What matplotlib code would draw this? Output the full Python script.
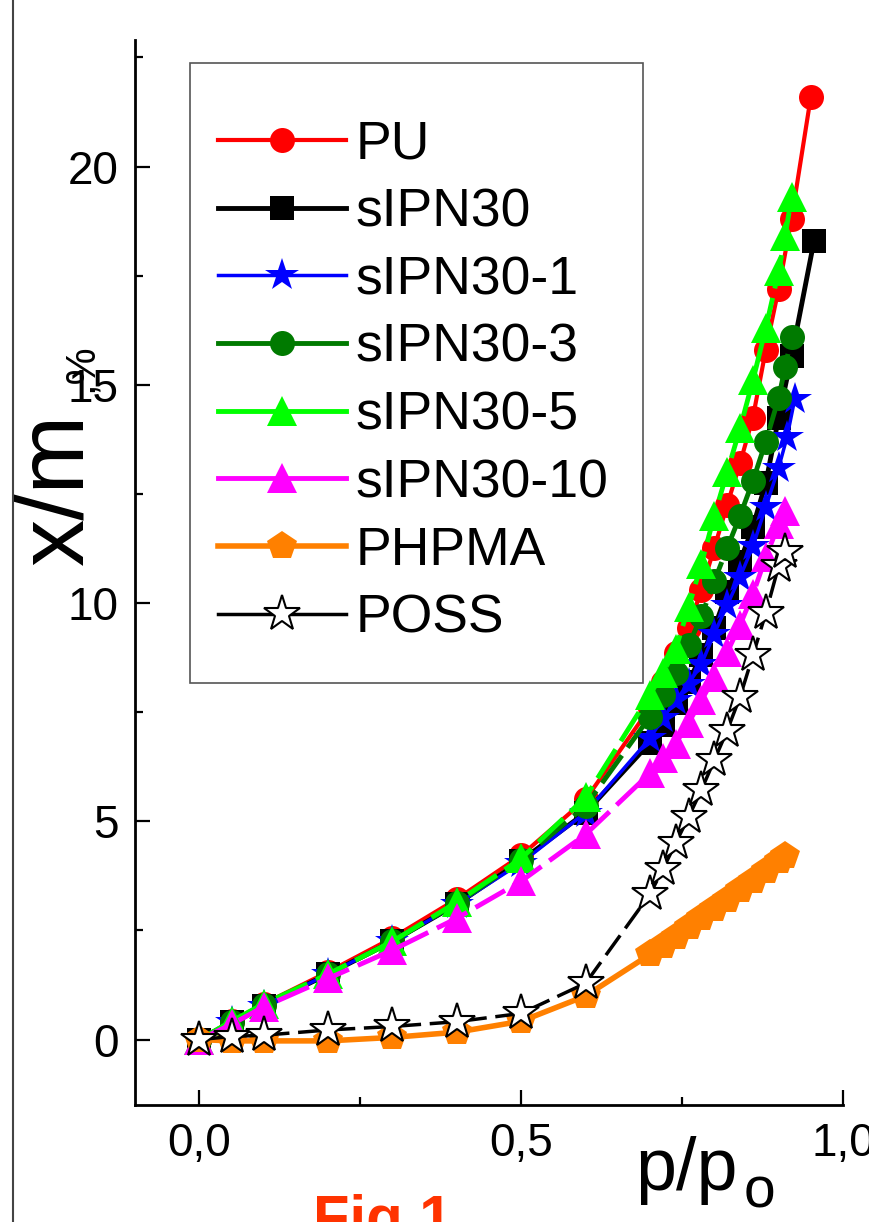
#!/usr/bin/env python3
"""Sorption isotherms x/m vs p/po -> out.png"""
import matplotlib
matplotlib.use("Agg")
import matplotlib.pyplot as plt
from matplotlib.lines import Line2D
from matplotlib.patches import Rectangle
from matplotlib.ticker import MultipleLocator, FixedLocator, FixedFormatter

plt.rcParams["font.family"] = ["Liberation Sans", "DejaVu Sans"]

# ---- data ----
X_LOW = [0.0, 0.05, 0.1, 0.2, 0.3, 0.4, 0.5, 0.6]

pu_x = X_LOW + [0.70, 0.72, 0.74, 0.76, 0.78, 0.80, 0.82, 0.84, 0.86, 0.88, 0.90, 0.92, 0.95]
pu_y = [0.0, 0.42, 0.82, 1.55, 2.33, 3.22, 4.22, 5.5,
        7.6, 8.2, 8.85, 9.43, 10.3, 11.26, 12.25, 13.2, 14.25, 15.8, 17.2, 18.8, 21.6]

s30_x = X_LOW + [0.70, 0.72, 0.74, 0.76, 0.78, 0.80, 0.82, 0.84, 0.86, 0.88, 0.90, 0.92, 0.955]
s30_y = [0.0, 0.4, 0.78, 1.5, 2.25, 3.1, 4.1, 5.2,
         6.8, 7.2, 7.7, 8.2, 8.8, 9.43, 10.25, 10.95, 11.75, 12.75, 14.25, 15.65, 18.3]

s30_1_x = X_LOW + [0.70, 0.72, 0.74, 0.76, 0.78, 0.80, 0.82, 0.84, 0.86, 0.88, 0.90, 0.913, 0.925]
s30_1_y = [0.0, 0.4, 0.78, 1.5, 2.25, 3.1, 4.05, 5.2,
           6.9, 7.36, 7.77, 8.15, 8.6, 9.3, 9.95, 10.6, 11.3, 12.2, 13.1, 13.8, 14.67]

s30_3_x = X_LOW + [0.70, 0.72, 0.74, 0.76, 0.78, 0.80, 0.82, 0.84, 0.86, 0.88, 0.90, 0.91, 0.92]
s30_3_y = [0.0, 0.4, 0.8, 1.5, 2.25, 3.12, 4.12, 5.35,
           7.4, 7.9, 8.4, 9.03, 9.7, 10.5, 11.26, 12.0, 12.8, 13.7, 14.7, 15.4, 16.1]

s30_5_x = X_LOW + [0.70, 0.72, 0.74, 0.76, 0.78, 0.80, 0.82, 0.84, 0.86, 0.88, 0.90, 0.91, 0.92]
s30_5_y = [0.0, 0.42, 0.82, 1.5, 2.25, 3.15, 4.15, 5.55,
           7.9, 8.4, 8.95, 9.9, 10.9, 12.0, 13.0, 14.0, 15.1, 16.3, 17.6, 18.4, 19.3]

s30_10_x = X_LOW + [0.70, 0.72, 0.74, 0.76, 0.78, 0.80, 0.82, 0.84, 0.86, 0.88, 0.90, 0.91]
s30_10_y = [0.0, 0.35, 0.75, 1.4, 2.05, 2.78, 3.63, 4.7,
            6.1, 6.44, 6.78, 7.26, 7.77, 8.3, 8.87, 9.5, 10.2, 11.05, 11.8, 12.1]

phpma_x = X_LOW + [0.70, 0.72, 0.74, 0.76, 0.78, 0.80, 0.82, 0.84, 0.86, 0.88, 0.90, 0.91]
phpma_y = [0.0, -0.03, -0.03, -0.03, 0.05, 0.17, 0.42, 1.0,
           1.95, 2.15, 2.36, 2.57, 2.78, 2.99, 3.2, 3.42, 3.64, 3.86, 4.08, 4.2]

poss_x = X_LOW + [0.70, 0.72, 0.74, 0.76, 0.78, 0.80, 0.82, 0.84, 0.86, 0.88, 0.90, 0.91]
poss_y = [0.0, 0.07, 0.1, 0.22, 0.3, 0.41, 0.6, 1.29,
          3.33, 3.9, 4.5, 5.1, 5.72, 6.4, 7.08, 7.85, 8.8, 9.77, 10.85, 11.17]

labels = ["PU", "sIPN30", "sIPN30-1", "sIPN30-3", "sIPN30-5", "sIPN30-10", "PHPMA", "POSS"]
xs = [pu_x, s30_x, s30_1_x, s30_3_x, s30_5_x, s30_10_x, phpma_x, poss_x]
ys = [pu_y, s30_y, s30_1_y, s30_3_y, s30_5_y, s30_10_y, phpma_y, poss_y]

x_ticks = [0.0, 0.5, 1.0]
x_ticklabels = ["0,0", "0,5", "1,0"]
y_ticks = [0, 5, 10, 15, 20]

# ---- styles ----
styles = [
    dict(color="#ff0000", marker="o", ms=18, lw=3.0, ls="-", mfc="#ff0000"),
    dict(color="#000000", marker="s", ms=17, lw=3.5, ls="-", mfc="#000000"),
    dict(color="#0000ff", marker="*", ms=25, lw=2.5, ls="-", mfc="#0000ff"),
    dict(color="#007a00", marker="o", ms=18, lw=3.5, ls=(0, (7, 2)), mfc="#007a00"),
    dict(color="#00ff00", marker="^", ms=21, lw=3.5, ls=(0, (7, 2)), mfc="#00ff00"),
    dict(color="#ff00ff", marker="^", ms=22, lw=3.5, ls=(0, (7, 2)), mfc="#ff00ff"),
    dict(color="#ff8000", marker="p", ms=22, lw=4.0, ls="-", mfc="#ff8000"),
    dict(color="#000000", marker="*", ms=27, lw=2.5, ls=(0, (7, 2.5)), mfc="white"),
]


def main():
    fig = plt.figure(figsize=(8.69, 12.22), dpi=100)
    ax = fig.add_axes([0.1554, 0.0957, 0.8147, 0.8716])

    handles = []
    for x, y, lab, st in zip(xs, ys, labels, styles):
        edge = "black" if st["mfc"] == "white" else st["color"]
        mew = 1.5 if st["mfc"] == "white" else 0.0
        ax.plot(x, y, color=st["color"], lw=st["lw"], ls=st["ls"],
                marker=st["marker"], ms=st["ms"], mfc=st["mfc"], mec=edge, mew=mew,
                clip_on=False)
        handles.append(Line2D([], [], color=st["color"], lw=st["lw"], ls="-",
                              marker=st["marker"], ms=st["ms"], mfc=st["mfc"],
                              mec=edge, mew=mew))

    ax.set_xlim(-0.1, 1.0)
    ax.set_ylim(-1.5, 22.9)
    for side in ("top", "right"):
        ax.spines[side].set_visible(False)
    for side in ("left", "bottom"):
        ax.spines[side].set_linewidth(2.0)

    ax.xaxis.set_major_locator(FixedLocator(x_ticks))
    ax.xaxis.set_major_formatter(FixedFormatter(x_ticklabels))
    ax.xaxis.set_minor_locator(MultipleLocator(0.25))
    ax.yaxis.set_major_locator(FixedLocator(y_ticks))
    ax.yaxis.set_minor_locator(MultipleLocator(2.5))
    ax.tick_params(which="major", direction="in", length=11, width=1.6,
                   labelsize=33, pad=12)
    ax.tick_params(which="minor", direction="in", length=6, width=1.6)

    # legend with a separate square frame
    ax.add_patch(Rectangle((0.0777, 0.396), 0.640, 0.582, transform=ax.transAxes,
                           fill=False, edgecolor="#555555", lw=1.2, clip_on=False,
                           zorder=5))
    ax.legend(handles, labels, loc="upper left", bbox_to_anchor=(0.117, 0.925),
              frameon=False, fontsize=38.5, handlelength=2.4, handletextpad=0.18,
              labelspacing=0.33, borderpad=0, borderaxespad=0)

    # axis titles
    fig.text(82 / 869, 1 - 565 / 1222, "x/m", fontsize=68, rotation=90,
             rotation_mode="anchor", ha="left", va="baseline")
    fig.text(92 / 869, 1 - 392 / 1222, ",%", fontsize=30, rotation=90,
             rotation_mode="anchor", ha="left", va="baseline")
    fig.text(635 / 869, 1 - 1190 / 1222, "p/p", fontsize=53, ha="left", va="baseline")
    fig.text(744 / 869, 1 - 1208 / 1222, "o", fontsize=41, ha="left", va="baseline")

    fig.text(313 / 869, 1 - 1237 / 1222, "Fig.1", fontsize=43, fontweight="bold",
             color="#ff3300", ha="left", va="baseline")

    # left frame line of the original page
    fig.add_artist(Line2D([12.7 / 869, 12.7 / 869], [0, 1], color="#444444", lw=1.5))

    fig.savefig("out.png", dpi=100)


if __name__ == "__main__":
    main()
